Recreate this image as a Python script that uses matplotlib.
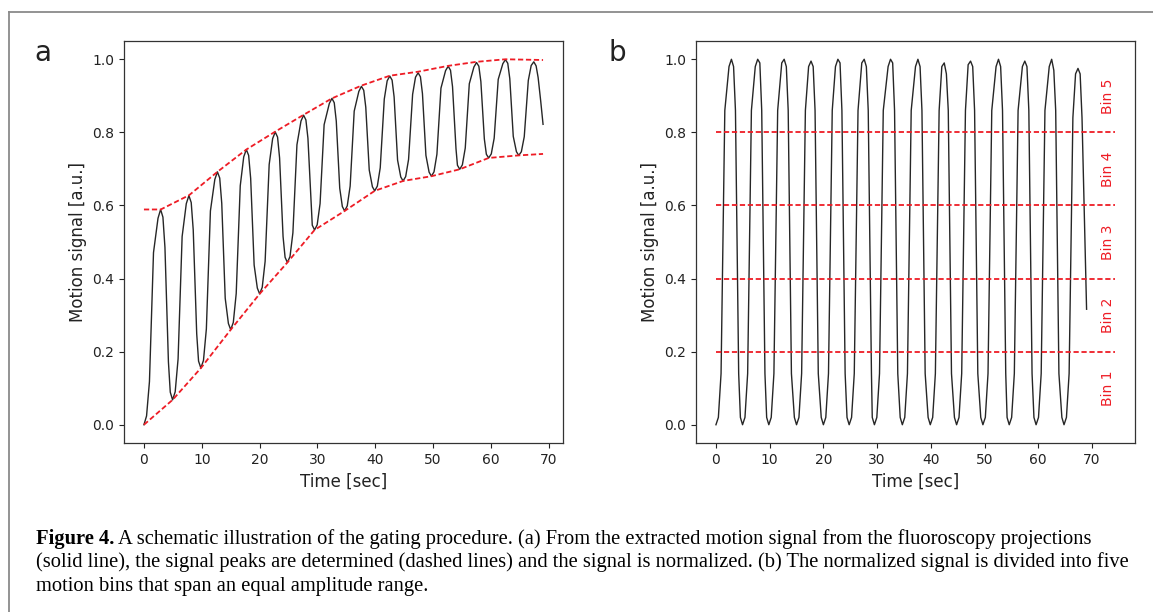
import matplotlib
matplotlib.use("Agg")
import matplotlib.pyplot as plt
from matplotlib.lines import Line2D

# ---------------- data ----------------
time_s = [
    0.0, 0.45, 0.95, 1.3, 1.65, 2.43, 2.88, 3.28, 3.63, 3.93, 4.23, 4.55,
    4.95, 5.4, 5.9, 6.25, 6.6, 7.32, 7.77, 8.17, 8.52, 8.82, 9.12, 9.44,
    9.84, 10.29, 10.79, 11.14, 11.49, 12.25, 12.7, 13.1, 13.45, 13.75, 14.05, 14.6,
    15.0, 15.45, 15.95, 16.3, 16.65, 17.25, 17.7, 18.1, 18.45, 18.75, 19.05, 19.6,
    20.0, 20.45, 20.95, 21.3, 21.65, 22.25, 22.7, 23.1, 23.45, 23.75, 24.05, 24.4,
    24.8, 25.25, 25.75, 26.1, 26.45, 27.15, 27.6, 28.0, 28.35, 28.65, 28.95, 29.1,
    29.5, 29.95, 30.45, 30.8, 31.15, 32.05, 32.5, 32.9, 33.25, 33.55, 33.85, 34.3,
    34.7, 35.15, 35.65, 36.0, 36.35, 37.15, 37.6, 38.0, 38.35, 38.65, 38.95, 39.5,
    39.9, 40.35, 40.85, 41.2, 41.55, 42.05, 42.5, 42.9, 43.25, 43.55, 43.85, 44.4,
    44.8, 45.25, 45.75, 46.1, 46.45, 46.95, 47.4, 47.8, 48.15, 48.45, 48.75, 49.3,
    49.7, 50.15, 50.65, 51.0, 51.35, 52.15, 52.6, 53.0, 53.35, 53.65, 53.95, 54.2,
    54.6, 55.05, 55.55, 55.9, 56.25, 57.05, 57.5, 57.9, 58.25, 58.55, 58.85, 59.2,
    59.6, 60.05, 60.55, 60.9, 61.25, 62.05, 62.5, 62.9, 63.25, 63.55, 63.85, 64.4,
    64.8, 65.25, 65.75, 66.1, 66.45, 66.95, 67.4, 67.8, 68.15, 68.6, 69.0,
]
signal_a = [
    0.000, 0.024, 0.118, 0.295, 0.471, 0.565, 0.589, 0.568, 0.485, 0.329, 0.172, 0.089,
    0.068, 0.090, 0.180, 0.348, 0.515, 0.605, 0.627, 0.608, 0.533, 0.391, 0.249, 0.174,
    0.155, 0.176, 0.262, 0.424, 0.585, 0.671, 0.692, 0.675, 0.606, 0.476, 0.346, 0.277,
    0.260, 0.280, 0.359, 0.507, 0.654, 0.733, 0.753, 0.737, 0.674, 0.556, 0.437, 0.374,
    0.358, 0.376, 0.447, 0.580, 0.712, 0.783, 0.801, 0.787, 0.730, 0.623, 0.515, 0.458,
    0.444, 0.460, 0.525, 0.646, 0.766, 0.831, 0.847, 0.834, 0.784, 0.690, 0.596, 0.546,
    0.533, 0.547, 0.605, 0.713, 0.821, 0.879, 0.893, 0.881, 0.831, 0.739, 0.647, 0.597,
    0.585, 0.599, 0.653, 0.756, 0.858, 0.912, 0.926, 0.915, 0.869, 0.783, 0.697, 0.651,
    0.640, 0.653, 0.703, 0.797, 0.891, 0.941, 0.954, 0.943, 0.897, 0.811, 0.724, 0.678,
    0.667, 0.679, 0.726, 0.815, 0.904, 0.951, 0.963, 0.952, 0.906, 0.822, 0.737, 0.691,
    0.680, 0.692, 0.740, 0.831, 0.921, 0.969, 0.981, 0.970, 0.925, 0.840, 0.755, 0.710,
    0.699, 0.711, 0.757, 0.845, 0.933, 0.979, 0.991, 0.981, 0.939, 0.861, 0.782, 0.740,
    0.730, 0.741, 0.784, 0.865, 0.945, 0.988, 0.999, 0.989, 0.947, 0.868, 0.789, 0.747,
    0.737, 0.747, 0.788, 0.865, 0.942, 0.983, 0.993, 0.982, 0.950, 0.885, 0.822,
]
signal_b = [
    0.0, 0.02, 0.14, 0.5, 0.86, 0.98, 1.0, 0.98, 0.86, 0.5, 0.14, 0.02,
    0.0, 0.02, 0.14, 0.5, 0.86, 0.98, 1.0, 0.99, 0.86, 0.5, 0.14, 0.02,
    0.0, 0.02, 0.14, 0.5, 0.86, 0.99, 1.0, 0.98, 0.86, 0.5, 0.14, 0.02,
    0.0, 0.02, 0.14, 0.5, 0.86, 0.98, 0.995, 0.98, 0.86, 0.5, 0.14, 0.02,
    0.0, 0.02, 0.14, 0.5, 0.86, 0.98, 1.0, 0.99, 0.86, 0.5, 0.14, 0.02,
    0.0, 0.02, 0.14, 0.5, 0.86, 0.99, 1.0, 0.98, 0.86, 0.5, 0.14, 0.02,
    0.0, 0.02, 0.14, 0.5, 0.86, 0.98, 1.0, 0.99, 0.86, 0.5, 0.14, 0.02,
    0.0, 0.02, 0.14, 0.5, 0.86, 0.98, 1.0, 0.98, 0.86, 0.5, 0.14, 0.02,
    0.0, 0.02, 0.14, 0.5, 0.86, 0.98, 0.99, 0.96, 0.86, 0.5, 0.14, 0.02,
    0.0, 0.02, 0.14, 0.5, 0.86, 0.985, 0.995, 0.98, 0.86, 0.5, 0.14, 0.02,
    0.0, 0.02, 0.14, 0.5, 0.86, 0.98, 1.0, 0.98, 0.86, 0.5, 0.14, 0.02,
    0.0, 0.02, 0.14, 0.5, 0.86, 0.98, 0.995, 0.98, 0.86, 0.5, 0.14, 0.02,
    0.0, 0.02, 0.14, 0.5, 0.86, 0.98, 1.0, 0.97, 0.86, 0.5, 0.14, 0.02,
    0.0, 0.02, 0.14, 0.5, 0.84, 0.96, 0.975, 0.96, 0.84, 0.56, 0.316,
]

upper_t = [0.0, 2.9, 7.8, 12.7, 17.7, 22.7, 27.6, 32.5, 37.6, 42.5, 47.4, 52.6, 57.5, 62.5, 69.0]
upper_v = [0.589, 0.589, 0.628, 0.692, 0.753, 0.802, 0.848, 0.893, 0.928, 0.955, 0.966, 0.982, 0.993, 1.0, 0.998]
lower_t = [0.0, 4.95, 9.84, 15.0, 20.0, 24.8, 29.5, 34.7, 39.9, 44.8, 49.7, 54.6, 59.6, 64.8, 69.0]
lower_v = [0.0, 0.068, 0.155, 0.26, 0.358, 0.444, 0.533, 0.585, 0.640, 0.667, 0.680, 0.699, 0.730, 0.737, 0.741]

bin_edges = [0.2, 0.4, 0.6, 0.8]
bin_labels = ["Bin 1", "Bin 2", "Bin 3", "Bin 4", "Bin 5"]
bin_centers = [0.1, 0.3, 0.5, 0.7, 0.9]
x_ticks = [0, 10, 20, 30, 40, 50, 60, 70]
y_ticks = [0.0, 0.2, 0.4, 0.6, 0.8, 1.0]

caption_bold = "Figure 4."
caption_lines = [
    " A schematic illustration of the gating procedure. (a) From the extracted motion signal from the fluoroscopy projections",
    "(solid line), the signal peaks are determined (dashed lines) and the signal is normalized. (b) The normalized signal is divided into five",
    "motion bins that span an equal amplitude range.",
]

# ---------------- figure ----------------
W, H = 1153, 612
fig = plt.figure(figsize=(W / 100, H / 100), dpi=100)
fig.patch.set_facecolor("white")

def fx(px):
    return px / W

def fy(py):
    return 1 - py / H

# outer frame (top and left edges visible)
fig.add_artist(Line2D([fx(9), fx(9)], [fy(12), 0], color="#8a8a8a", lw=1.3, transform=fig.transFigure))
fig.add_artist(Line2D([fx(9), 1], [fy(12), fy(12)], color="#8a8a8a", lw=1.3, transform=fig.transFigure))

ax_a = fig.add_axes([fx(124), fy(443), fx(563 - 124), (443 - 41) / H])
ax_b = fig.add_axes([fx(696), fy(443), fx(1135 - 696), (443 - 41) / H])

line_col = "#262626"
red = "#ee1c25"
dash = (0, (2.9, 1.5))

ax_a.plot(time_s, signal_a, color=line_col, lw=1.0)
ax_a.plot(upper_t, upper_v, color=red, lw=1.3, linestyle=dash)
ax_a.plot(lower_t, lower_v, color=red, lw=1.3, linestyle=dash)

ax_b.plot(time_s, signal_b, color=line_col, lw=1.0)
ax_b.hlines(bin_edges, 0, 74.3, colors=red, lw=1.3, linestyles=[dash])
for lab, yc in zip(bin_labels, bin_centers):
    ax_b.text(73.0, yc, lab, rotation=90, color=red, fontsize=10, ha="center", va="center")

for ax in (ax_a, ax_b):
    ax.set_xticks(x_ticks)
    ax.set_yticks(y_ticks)
    ax.set_ylim(-0.05, 1.05)
    ax.tick_params(labelsize=10, colors="#222222", length=3.5, width=0.8)
    for sp in ax.spines.values():
        sp.set_color("#333333")
        sp.set_linewidth(0.9)
    ax.set_xlabel("Time [sec]", fontsize=12, color="#222222")
    ax.set_ylabel("Motion signal [a.u.]", fontsize=12, color="#222222")

fig.text(fx(43), fy(53), "a", fontsize=20, ha="center", va="center", color="#222222")
fig.text(fx(617), fy(53), "b", fontsize=20, ha="center", va="center", color="#222222")

# caption
serif = "Liberation Serif"
renderer = fig.canvas.get_renderer()
base = 12.0
t_b = fig.text(fx(36), fy(544), caption_bold, fontsize=base, fontweight="bold", family=serif, va="baseline")
t_1 = fig.text(0, 0, caption_lines[0], fontsize=base, family=serif, va="baseline")
t_2 = fig.text(fx(36), fy(567.5), caption_lines[1], fontsize=base, family=serif, va="baseline")
wb = t_b.get_window_extent(renderer).width
w1 = t_1.get_window_extent(renderer).width
w2 = t_2.get_window_extent(renderer).width
scale = ((1104 - 36) + (1120 - 36)) / (wb + w1 + w2)
size = base * scale
for t in (t_b, t_1, t_2):
    t.set_fontsize(size)
wb = t_b.get_window_extent(renderer).width
t_1.set_position((fx(36 + wb), fy(544)))
fig.text(fx(36), fy(591), caption_lines[2], fontsize=size, family=serif, va="baseline")

fig.savefig("out.png", dpi=100)
